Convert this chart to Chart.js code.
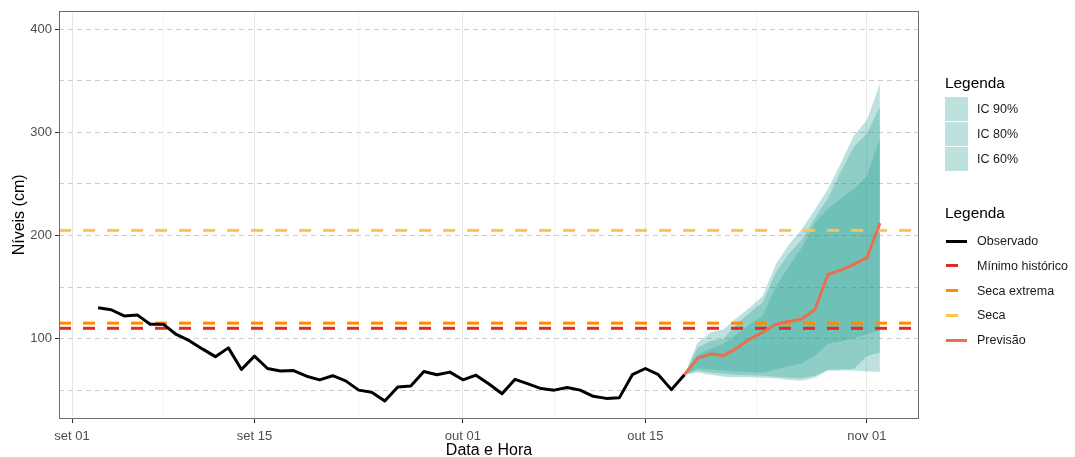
<!DOCTYPE html>
<html>
<head>
<meta charset="utf-8">
<script src="https://cdn.jsdelivr.net/npm/chart.js@4.4.1/dist/chart.umd.min.js"></script>
<style>
  body { margin: 0; background: #fff; font-family: 'Liberation Sans', Arial, sans-serif; }
  #wrap { position: relative; width: 1075px; height: 457px; }
  #plotarea { position: absolute; left: 0; top: 0; }
  .ltitle { position: absolute; left: 945px; font-size: 15.4px; color: #000; line-height: 18px; }
  .lbl { position: absolute; left: 977px; font-size: 12.5px; color: #1a1a1a; line-height: 14px; }
  .sw { position: absolute; left: 945px; width: 23px; height: 24px; }
  .key { position: absolute; left: 946px; height: 3px; }
</style>
</head>
<body>
<div id="wrap">
  <canvas id="plotarea" width="1075" height="457"></canvas>
  <div id="legend"></div>
</div>
<script>
// days counted from set 01
const obsDays = [2,3,4,5,6,7,8,9,10,11,12,13,14,15,16,17,18,19,20,21,22,23,24,25,26,27,28,29,30,31,32,33,34,35,36,37,38,39,40,41,42,43,44,45,46,47];
const obsLevels = [130,128,122,123,114,114,104,98,90,82.5,91,70,83,71,68.5,69,63.5,60,64,59,50,48,39.5,53,54,68,65,67.5,60,64.5,56,46.5,60.5,56,51.5,50,52.5,50,44,42,42.5,65,71,65,50.5,65];

const fcDays = [47,48,49,50,51,52,53,54,55,56,57,58,59,60,61,62];
const fcLevels = [65,81,85,83.5,90.5,99.5,106,114,116.5,119,128,162,166.5,172,178.5,212];

const ic90Upper = [65,96,106,109,120,130,141,172,191,206,225,245,270,297,312,347];
const ic90Lower = [65,67,65,63,62.5,62.5,62,61.5,60,59,62,69,69,69,68,67.5];
const ic80Upper = [65,91,98,100,114,125,135,164,182,196,217,236,262,286,299,325];
const ic80Lower = [65,69,67,66,65,64.5,64,63,62,61.5,64,69.5,70,70.5,83,86.5];
const ic60Upper = [65,84,90,95,104,114,122,150,170,188,212,226,236,245,258,294];
const ic60Lower = [65,71,70,69,68,67.5,67,70,73,76,83,95,97.5,100,104.5,107.5];

const minHistorico = 110;
const secaExtrema = 115;
const seca = 205;

const xMin = -1, xMax = 65;
const tickDays = [0,14,30,44,61];
const tickLabels = ['set 01','set 15','out 01','out 15','nov 01'];
const xGridDays = [0,7,14,22,30,37,44,52.5,61];

const yMin = 22, yMax = 418;
const yGridValues = [50,100,150,200,250,300,350,400];
const yLabelValues = [100,200,300,400];

const bandColor = 'rgba(38,158,145,0.3)';
const colObs = '#000000';
const colMin = '#DE2D26';
const colExt = '#FF8C00';
const colSeca = '#FEC44F';
const colPrev = '#E8704F';

function pts(xs, ys) {
  return xs.map((x, i) => ({x: x, y: ys[i]}));
}
function hline(v) {
  return [{x: xMin, y: v}, {x: xMax, y: v}];
}
function band(label, up, lo) {
  return [
    {label: label, data: pts(fcDays, up), borderColor: 'rgba(0,0,0,0)', borderWidth: 0,
     backgroundColor: bandColor, fill: '+1', order: 10},
    {label: label + ' lo', data: pts(fcDays, lo), borderColor: 'rgba(0,0,0,0)', borderWidth: 0,
     fill: false, order: 10}
  ];
}

const panelBorder = {
  id: 'panelBorder',
  afterDatasetsDraw(chart) {
    const a = chart.chartArea, c = chart.ctx;
    c.save();
    c.strokeStyle = '#6e6e6e';
    c.lineWidth = 1;
    c.strokeRect(Math.round(a.left) + 0.5, Math.round(a.top) + 0.5,
      Math.round(a.right - a.left) - 1, Math.round(a.bottom - a.top) - 1);
    c.restore();
  }
};

Chart.defaults.font.family = "'Liberation Sans', Arial, sans-serif";

const config = {
  type: 'line',
  data: {
    datasets: [
      {label: 'Previsão', data: pts(fcDays, fcLevels), borderColor: colPrev, borderWidth: 3, order: 1},
      {label: 'Observado', data: pts(obsDays, obsLevels), borderColor: colObs, borderWidth: 3, order: 2},
      {label: 'Seca', data: hline(seca), borderColor: colSeca, borderWidth: 3, borderDash: [12,12], order: 3},
      {label: 'Seca extrema', data: hline(secaExtrema), borderColor: colExt, borderWidth: 3, borderDash: [12,12], order: 3},
      {label: 'Mínimo histórico', data: hline(minHistorico), borderColor: colMin, borderWidth: 3, borderDash: [12,12], order: 3},
      ...band('IC 90%', ic90Upper, ic90Lower),
      ...band('IC 80%', ic80Upper, ic80Lower),
      ...band('IC 60%', ic60Upper, ic60Lower)
    ]
  },
  options: {
    responsive: false,
    animation: false,
    layout: { padding: {top: 7, right: 156, left: 0, bottom: 0} },
    elements: {
      point: { radius: 0 },
      line: { tension: 0, borderCapStyle: 'butt', borderJoinStyle: 'round' }
    },
    plugins: { legend: { display: false }, tooltip: { enabled: false } },
    scales: {
      x: {
        type: 'linear',
        min: xMin, max: xMax,
        afterBuildTicks: s => { s.ticks = xGridDays.map(v => ({value: v})); },
        afterFit: s => { s.height = 38; },
        ticks: {
          autoSkip: false, maxRotation: 0, padding: 6,
          color: '#4d4d4d', font: {size: 13},
          callback: v => { const i = tickDays.indexOf(v); return i >= 0 ? tickLabels[i] : ''; }
        },
        grid: {
          color: c => tickDays.includes(c.tick.value) ? '#e8e8e8' : '#f3f3f3',
          tickLength: 4,
          tickColor: c => tickDays.includes(c.tick.value) ? '#333333' : 'rgba(0,0,0,0)'
        },
        border: { display: false },
        title: { display: true, text: 'Data e Hora', color: '#000', font: {size: 16, lineHeight: 0.8}, padding: 0 }
      },
      y: {
        min: yMin, max: yMax,
        afterBuildTicks: s => { s.ticks = yGridValues.map(v => ({value: v})); },
        afterFit: s => { s.width = 59; },
        ticks: {
          autoSkip: false, padding: 3,
          color: '#4d4d4d', font: {size: 13},
          callback: v => yLabelValues.includes(v) ? String(v) : ''
        },
        grid: {
          color: '#cccccc',
          tickLength: 4,
          tickColor: c => yLabelValues.includes(c.tick.value) ? '#333333' : 'rgba(0,0,0,0)'
        },
        border: { display: false, dash: [5,4] },
        title: { display: true, text: 'Níveis (cm)', color: '#000', font: {size: 16, lineHeight: 1}, padding: {top: 12, bottom: 0} }
      }
    }
  },
  plugins: [panelBorder]
};

const myChart = new Chart(document.getElementById('plotarea'), config);

// -------- legend (two groups, like the original) ----------
const bandLegend = ['IC 90%', 'IC 80%', 'IC 60%'];
const lineLegend = [
  {name: 'Observado', color: colObs, w: 21},
  {name: 'Mínimo histórico', color: colMin, w: 12},
  {name: 'Seca extrema', color: colExt, w: 12},
  {name: 'Seca', color: colSeca, w: 12},
  {name: 'Previsão', color: colPrev, w: 21}
];

const legend = document.getElementById('legend');
let html = '<div class="ltitle" style="top:74px">Legenda</div>';
bandLegend.forEach((n, i) => {
  const top = 97 + i * 25;
  html += '<div class="sw" style="top:' + top + 'px;background:' + bandColor + '"></div>';
  html += '<div class="lbl" style="top:' + (top + 5) + 'px">' + n + '</div>';
});
html += '<div class="ltitle" style="top:204px">Legenda</div>';
lineLegend.forEach((it, i) => {
  const cy = 241 + i * 24.8;
  html += '<div class="key" style="top:' + (cy - 1.5) + 'px;width:' + it.w + 'px;background:' + it.color + '"></div>';
  html += '<div class="lbl" style="top:' + (cy - 7) + 'px">' + it.name + '</div>';
});
legend.innerHTML = html;
</script>
</body>
</html>
